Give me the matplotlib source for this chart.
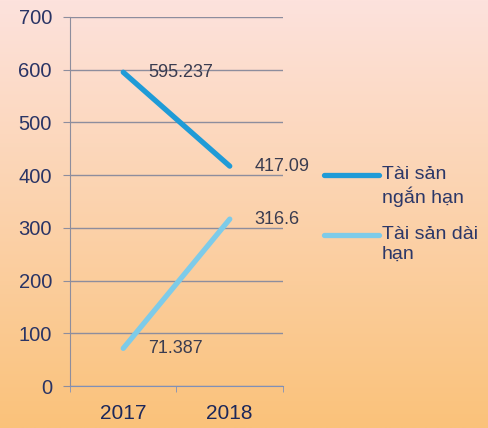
import numpy as np
import matplotlib.pyplot as plt
from matplotlib.lines import Line2D

plt.rcParams['font.family'] = ['Liberation Sans', 'DejaVu Sans']

years = ["2017", "2018"]
ngan_han = [595.237, 417.09]
dai_han = [71.387, 316.6]
labels_ngan = ["595.237", "417.09"]
labels_dai = ["71.387", "316.6"]
series_names = ["Tài sản\nngắn hạn", "Tài sản dài\nhạn"]
colors = ["#1f9bd7", "#7dcbe9"]

fig = plt.figure(figsize=(4.89, 4.28), dpi=100)

# gradient background
bg = fig.add_axes([0, 0, 1, 1], zorder=-10)
top = np.array([253, 226, 221]) / 255
bot = np.array([250, 194, 122]) / 255
t = np.linspace(0, 1, 256)[:, None]
grad = top * (1 - t) + bot * t
bg.imshow(grad[:, None, :], aspect="auto", extent=[0, 1, 0, 1])
bg.axis("off")

ax = fig.add_axes([70 / 489, 42 / 428, 213 / 489, 369 / 428])
ax.set_facecolor("none")

x = np.arange(len(years))
ax.plot(x, ngan_han, color=colors[0], lw=3.8, solid_capstyle="round")
ax.plot(x, dai_han, color=colors[1], lw=3.8, solid_capstyle="round")

for xi, v, s in zip(x, ngan_han, labels_ngan):
    ax.annotate(s, (xi, v), xytext=(18, 0), textcoords="offset points",
                va="center", ha="left", fontsize=13, color="#3a3c50")
for xi, v, s in zip(x, dai_han, labels_dai):
    ax.annotate(s, (xi, v), xytext=(18, 0), textcoords="offset points",
                va="center", ha="left", fontsize=13, color="#3a3c50")

ax.set_xlim(-0.5, 1.5)
ax.set_ylim(0, 700)
ax.set_yticks(range(0, 701, 100))
ax.set_xticks(x)
ax.set_xticklabels(years)
ax.set_xticks([-0.5, 0.5, 1.5], minor=True)

grid_c = "#8d8d9d"
ax.grid(axis="y", color=grid_c, lw=1)
ax.set_axisbelow(True)
for s in ["top", "right"]:
    ax.spines[s].set_visible(False)
ax.spines["left"].set_color(grid_c)
ax.spines["bottom"].set_color("#7f90b8")

ax.tick_params(axis="y", length=5, color=grid_c, labelsize=14.5, labelcolor="#2a3465", pad=8)
ax.tick_params(axis="x", which="major", length=0, labelsize=15, labelcolor="#1c275a", pad=13)
ax.tick_params(axis="x", which="minor", length=4, color="#7f90b8")

# legend
legend_y = [175, 235]
for c, name, ly in zip(colors, series_names, legend_y):
    yf = 1 - ly / 428
    fig.add_artist(Line2D([324 / 489, 379 / 489], [yf, yf], color=c, lw=3.8,
                          solid_capstyle="round", transform=fig.transFigure))
    fig.text(382 / 489, yf + 9 / 428, name, fontsize=14, color="#2b3768",
             va="top", ha="left", linespacing=1.2)

fig.savefig("out.png", dpi=100)
